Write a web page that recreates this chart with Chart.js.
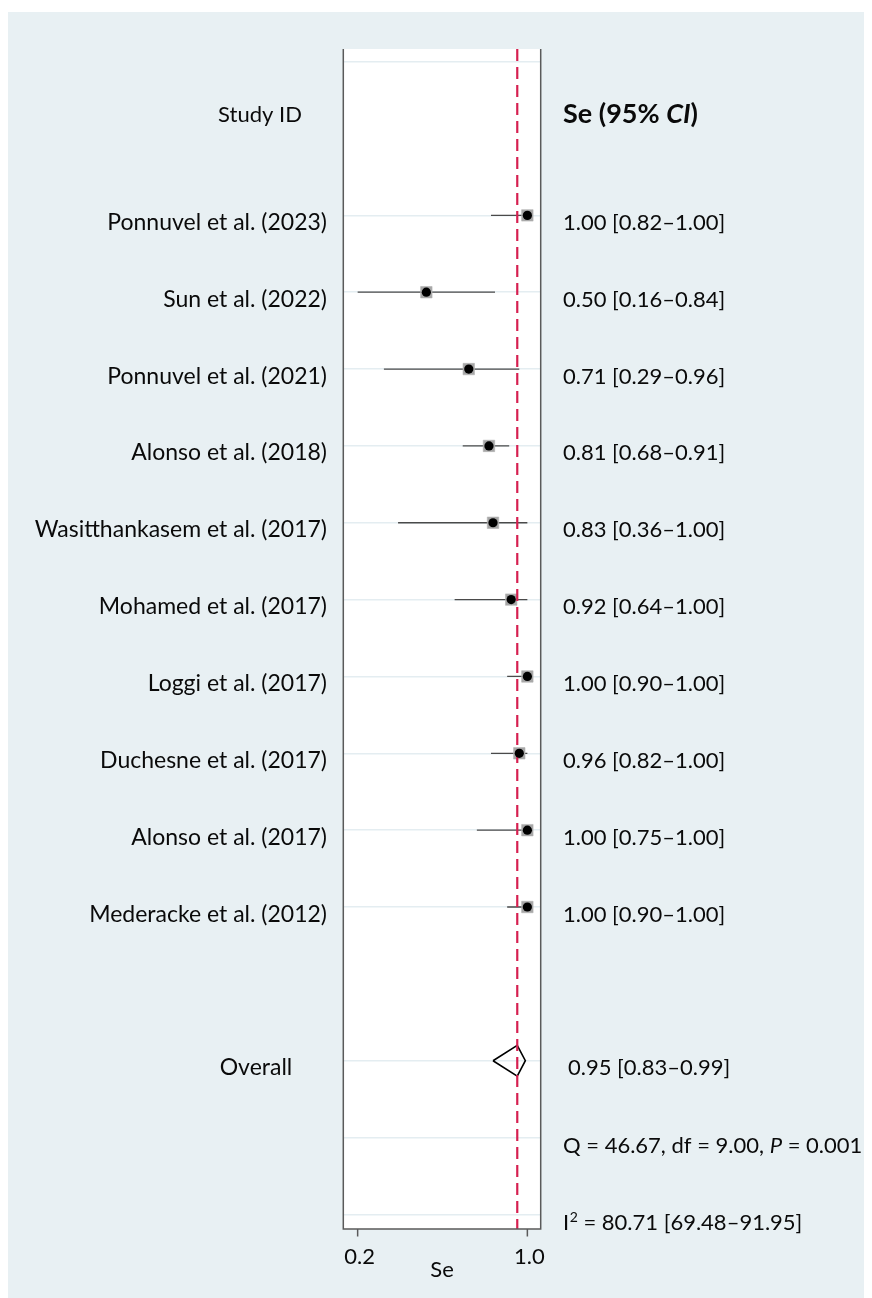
<!DOCTYPE html>
<html>
<head>
<meta charset="utf-8">
<script src="https://cdn.jsdelivr.net/npm/chart.js@4.4.0/dist/chart.umd.min.js"></script>
<style>
  html, body { margin: 0; padding: 0; background: #ffffff; }
  canvas { display: block; }
</style>
</head>
<body>
<canvas id="c" width="872" height="1298"></canvas>
<script>
// ---------- data ----------
const studies = ["Ponnuvel et al. (2023)", "Sun et al. (2022)", "Ponnuvel et al. (2021)", "Alonso et al. (2018)",
  "Wasitthankasem et al. (2017)", "Mohamed et al. (2017)", "Loggi et al. (2017)", "Duchesne et al. (2017)",
  "Alonso et al. (2017)", "Mederacke et al. (2012)"];
const se     = [1.00, 0.50, 0.71, 0.81, 0.83, 0.92, 1.00, 0.96, 1.00, 1.00];
const ciLow  = [0.82, 0.16, 0.29, 0.68, 0.36, 0.64, 0.90, 0.82, 0.75, 0.90];
const ciHigh = [1.00, 0.84, 0.96, 0.91, 1.00, 1.00, 1.00, 1.00, 1.00, 1.00];
const studyRows = [2, 3, 4, 5, 6, 7, 8, 9, 10, 11];

const overallLabel = "Overall";
const overall = [0.95, 0.83, 0.99];   // estimate, lower, upper
const overallRow = 13;

const hetQ = "46.67", hetDf = "9.00", hetP = "0.001";
const i2 = ["80.71", "69.48", "91.95"];
const hetRows = [14, 15];

const tickValues = [0.16, 1.0];
const tickLabels = ["0.2", "1.0"];
const gridRows = [0, 2, 3, 4, 5, 6, 7, 8, 9, 10, 11, 13, 14, 15];
const headerRow = 0.6;

// ---------- styling ----------
const FONT = "Lato";
const X_MIN = 0.089, X_MAX = 1.066;
const Y_MIN = -0.165, Y_MAX = 15.19;
const fmt = v => v.toFixed(2);

const ciPoints = [];
studies.forEach((s, i) => {
  ciPoints.push({x: ciLow[i], y: studyRows[i]});
  ciPoints.push({x: ciHigh[i], y: studyRows[i]});
  ciPoints.push({x: ciHigh[i], y: null});
});
const estPoints = se.map((v, i) => ({x: v, y: studyRows[i]}));
const dh = 0.2;
const diamond = [
  {x: overall[1], y: overallRow}, {x: overall[0], y: overallRow - dh},
  {x: overall[2], y: overallRow}, {x: overall[0], y: overallRow + dh},
  {x: overall[1], y: overallRow}
];
const refLine = [{x: overall[0], y: Y_MIN}, {x: overall[0], y: Y_MAX}];

const bgPlugin = {
  id: 'bg',
  beforeDraw(chart) {
    const {ctx, chartArea: a} = chart;
    ctx.save();
    ctx.fillStyle = '#ffffff';
    ctx.fillRect(0, 0, chart.width, chart.height);
    ctx.fillStyle = '#e8f0f3';
    ctx.fillRect(8, 12, chart.width - 16, chart.height - 12);
    ctx.fillStyle = '#ffffff';
    ctx.fillRect(a.left, a.top, a.right - a.left, a.bottom - a.top);
    ctx.restore();
  }
};

function drawSegments(ctx, x, y, segs) {
  let cx = x;
  segs.forEach(sg => {
    ctx.font = sg.font;
    ctx.fillText(sg.t, cx, y + (sg.dy || 0));
    cx += ctx.measureText(sg.t).width + (sg.gap || 0);
  });
}

const textPlugin = {
  id: 'texts',
  afterDraw(chart) {
    const {ctx, chartArea: a, scales: {x, y}} = chart;
    ctx.save();
    // frame
    ctx.strokeStyle = '#5a5a5a';
    ctx.lineWidth = 1.5;
    ctx.beginPath();
    ctx.moveTo(a.left, a.top); ctx.lineTo(a.left, a.bottom);
    ctx.lineTo(a.right, a.bottom); ctx.lineTo(a.right, a.top);
    ctx.stroke();
    ctx.fillStyle = '#0a0a0a';
    ctx.textBaseline = 'alphabetic';
    // ticks
    tickValues.forEach((v, i) => {
      const px = x.getPixelForValue(v);
      ctx.beginPath(); ctx.moveTo(px, a.bottom); ctx.lineTo(px, a.bottom + 7.5); ctx.stroke();
      ctx.font = `22px ${FONT}`;
      ctx.textAlign = 'center';
      ctx.fillText(tickLabels[i], px + 2, a.bottom + 35);
    });
    ctx.font = `22px ${FONT}`;
    ctx.textAlign = 'center';
    ctx.fillText("Se", (a.left + a.right) / 2, a.bottom + 47.5);

    // headers
    const hy = y.getPixelForValue(headerRow) + 14.5;
    ctx.font = `22px ${FONT}`;
    ctx.textAlign = 'center';
    ctx.fillText("Study ID", 260, hy);
    ctx.textAlign = 'left';
    drawSegments(ctx, 563, hy + 1, [
      {t: "Se (95% ", font: `bold 27px ${FONT}`},
      {t: "CI", font: `italic bold 27px ${FONT}`},
      {t: ")", font: `bold 27px ${FONT}`}
    ]);

    // study rows
    studies.forEach((s, i) => {
      const py = y.getPixelForValue(studyRows[i]) + 14.5;
      ctx.font = `23px ${FONT}`;
      ctx.textAlign = 'right';
      ctx.fillText(s, 327, py);
      ctx.font = `22px ${FONT}`;
      ctx.textAlign = 'left';
      ctx.fillText(`${fmt(se[i])} [${fmt(ciLow[i])}\u2013${fmt(ciHigh[i])}]`, 563, py);
    });
    // overall
    const oy = y.getPixelForValue(overallRow) + 14.5;
    ctx.textAlign = 'center';
    ctx.font = `23px ${FONT}`;
    ctx.fillText(overallLabel, 256, oy);
    ctx.textAlign = 'left';
    ctx.font = `22px ${FONT}`;
    ctx.fillText(`${fmt(overall[0])} [${fmt(overall[1])}\u2013${fmt(overall[2])}]`, 568, oy);
    // heterogeneity
    const qy = y.getPixelForValue(hetRows[0]) + 15;
    drawSegments(ctx, 563, qy, [
      {t: `Q = ${hetQ}, df = ${hetDf}, `, font: `22px ${FONT}`},
      {t: "P", font: `italic 22px ${FONT}`},
      {t: ` = ${hetP}`, font: `22px ${FONT}`}
    ]);
    const iy = y.getPixelForValue(hetRows[1]) + 15.5;
    drawSegments(ctx, 563, iy, [
      {t: "I", font: `22px ${FONT}`, gap: 0.5},
      {t: "2", font: `14px ${FONT}`, dy: -8},
      {t: ` = ${i2[0]} [${i2[1]}\u2013${i2[2]}]`, font: `22px ${FONT}`}
    ]);
    ctx.restore();
  }
};

function build() {
  new Chart(document.getElementById('c'), {
    type: 'scatter',
    data: {
      datasets: [
        { // CI lines
          data: ciPoints, showLine: true, pointRadius: 0, borderColor: '#4a4a4a',
          borderWidth: 1.3, spanGaps: false, order: 6
        },
        { // grey weight squares
          data: estPoints, pointStyle: 'rect', pointRadius: 8.1, backgroundColor: '#a6a6a6',
          borderColor: '#b4b4b4', borderWidth: 0.6, showLine: false, order: 5
        },
        { // overall diamond
          data: diamond, showLine: true, pointRadius: 0, borderColor: '#000000',
          borderWidth: 1.6, tension: 0, order: 4
        },
        { // reference line at overall estimate
          data: refLine, showLine: true, pointRadius: 0, borderColor: '#d61f50',
          borderWidth: 2.2, borderDash: [12, 6], order: 3
        },
        { // point estimates
          data: estPoints, pointStyle: 'circle', pointRadius: 4.6, backgroundColor: '#000000',
          borderWidth: 0, showLine: false, order: 2
        }
      ]
    },
    options: {
      responsive: false,
      animation: false,
      devicePixelRatio: 1,
      layout: { padding: { left: 343.3, right: 872 - 540.7, top: 49, bottom: 1298 - 1229 } },
      plugins: { legend: { display: false }, tooltip: { enabled: false } },
      scales: {
        x: { type: 'linear', min: X_MIN, max: X_MAX, display: false },
        y: {
          type: 'linear', reverse: true, min: Y_MIN, max: Y_MAX, display: true,
          afterBuildTicks: (sc) => { sc.ticks = gridRows.map(v => ({value: v})); },
          ticks: { display: false },
          border: { display: false },
          grid: { drawTicks: false, color: '#e4edf1', lineWidth: 1.5 }
        }
      }
    },
    plugins: [bgPlugin, textPlugin]
  });
}

Promise.all([
  document.fonts.load(`23px ${FONT}`), document.fonts.load(`bold 27px ${FONT}`),
  document.fonts.load(`italic 22px ${FONT}`), document.fonts.load(`italic bold 27px ${FONT}`)
]).then(build, build);
</script>
</body>
</html>
